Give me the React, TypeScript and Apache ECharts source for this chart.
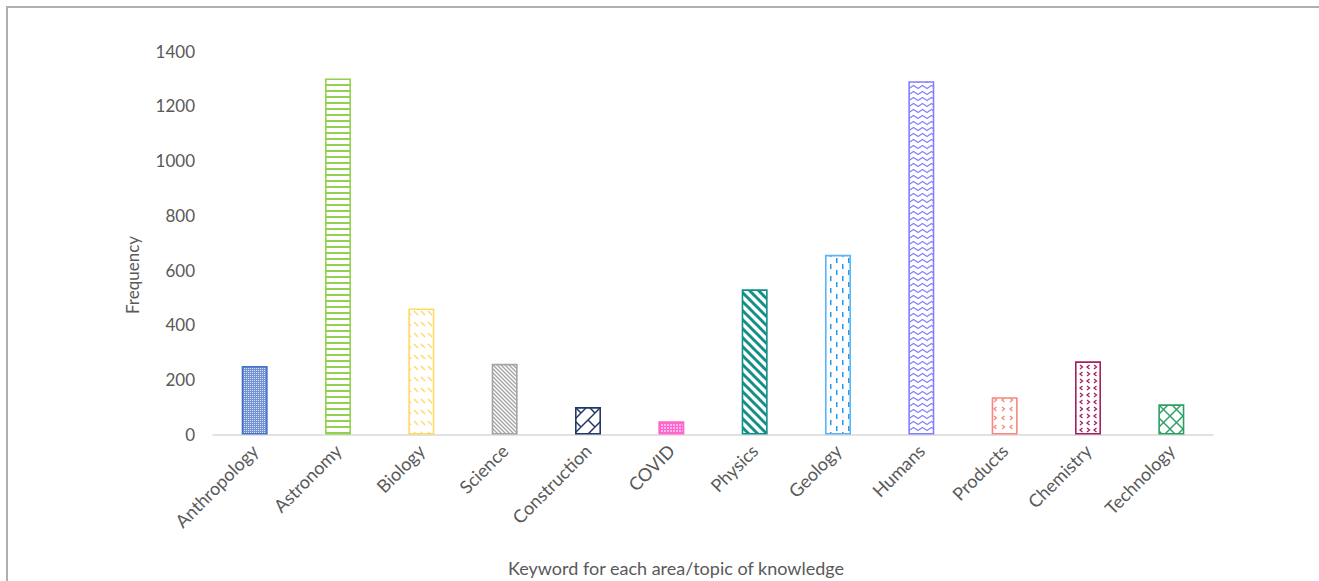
import React, { useEffect, useRef } from "react";
import * as echarts from "echarts";

const categories = [
  "Anthropology", "Astronomy", "Biology", "Science", "Construction", "COVID",
  "Physics", "Geology", "Humans", "Products", "Chemistry", "Technology",
];
const frequencies = [250, 1300, 460, 258, 100, 48, 530, 656, 1290, 136, 267, 110];
const yMin = 0;
const yMax = 1400;
const yInterval = 200;
const xAxisTitle = "Keyword for each area/topic of knowledge";
const yAxisTitle = "Frequency";
const barColors = [
  "#4472C4", "#92D050", "#FFD966", "#A5A5A5", "#203864", "#FF66CC",
  "#138F8A", "#1E9BF0", "#8080FF", "#F8877F", "#A4205E", "#2BA064",
];
const borderColors = [
  "#4472C4", "#92D050", "#FFD966", "#A5A5A5", "#203864", "#FF66CC",
  "#138F8A", "#5AB4F5", "#8080FF", "#F8877F", "#A4205E", "#2BA064",
];

type Ctx = CanvasRenderingContext2D;

function stroke(ctx: Ctx, pts: number[][], color: string, lw: number) {
  ctx.strokeStyle = color;
  ctx.lineWidth = lw;
  ctx.beginPath();
  pts.forEach(([x, y], i) => (i ? ctx.lineTo(x, y) : ctx.moveTo(x, y)));
  ctx.stroke();
}
function back(ctx: Ctx, s: number, color: string, lw: number) {
  for (const k of [-s, 0, s]) stroke(ctx, [[k - 1, -1], [k + s + 1, s + 1]], color, lw);
}
function fwd(ctx: Ctx, s: number, color: string, lw: number) {
  for (const k of [-s, 0, s]) stroke(ctx, [[k - 1, s + 1], [k + s + 1, -1]], color, lw);
}

function tile(w: number, h: number, bg: string, draw: (ctx: Ctx) => void) {
  const c = document.createElement("canvas");
  c.width = w;
  c.height = h;
  const ctx = c.getContext("2d") as Ctx;
  ctx.fillStyle = bg;
  ctx.fillRect(0, 0, w, h);
  draw(ctx);
  return { image: c.toDataURL(), repeat: "repeat", imageWidth: w, imageHeight: h };
}

function chevR(ctx: Ctx, x: number, y: number, c: string) {
  stroke(ctx, [[x, y], [x + 2.5, y + 2], [x, y + 4]], c, 1.3);
}
function chevL(ctx: Ctx, x: number, y: number, c: string) {
  stroke(ctx, [[x + 2.5, y], [x, y + 2], [x + 2.5, y + 4]], c, 1.3);
}

function makePatterns() {
  const c = barColors;
  return [
    tile(2, 2, "#7394D4", (ctx) => {
      ctx.fillStyle = "#D9E3F5";
      ctx.fillRect(0, 0, 1, 1);
    }),
    tile(6, 6, "#ffffff", (ctx) => {
      ctx.fillStyle = c[1];
      ctx.fillRect(0, 0, 6, 2);
    }),
    tile(7, 11, "#ffffff", (ctx) => {
      stroke(ctx, [[1, 3], [5, 7]], c[2], 1.5);
    }),
    tile(4, 4, "#ffffff", (ctx) => back(ctx, 4, c[3], 1.4)),
    tile(14, 14, "#ffffff", (ctx) => {
      fwd(ctx, 14, c[4], 1.5);
      stroke(ctx, [[0, 0], [7, 7]], c[4], 1.5);
    }),
    tile(3, 3, "#FFB3E6", (ctx) => {
      ctx.fillStyle = c[5];
      ctx.fillRect(0, 0, 3, 1);
      ctx.fillRect(0, 0, 1, 3);
    }),
    tile(9, 9, "#ffffff", (ctx) => back(ctx, 9, c[6], 3)),
    tile(12, 12, "#ffffff", (ctx) => {
      ctx.fillStyle = c[7];
      ctx.fillRect(2, 0, 1.5, 5);
      ctx.fillRect(8, 6, 1.5, 5);
    }),
    tile(9, 6, "#ffffff", (ctx) => {
      stroke(ctx, [[-1, 5], [0, 4.5], [4.5, 1.5], [9, 4.5], [10, 5]], c[8], 1.2);
    }),
    tile(16, 18, "#ffffff", (ctx) => {
      chevR(ctx, 2, 2, c[9]);
      chevL(ctx, 10, 2, c[9]);
      chevL(ctx, 2, 11, c[9]);
      chevR(ctx, 10, 11, c[9]);
    }),
    tile(14, 14, "#ffffff", (ctx) => {
      chevR(ctx, 2, 1, c[10]);
      chevL(ctx, 9, 1, c[10]);
      chevL(ctx, 2, 8, c[10]);
      chevR(ctx, 9, 8, c[10]);
    }),
    tile(13, 13, "#ffffff", (ctx) => {
      back(ctx, 13, c[11], 1.4);
      fwd(ctx, 13, c[11], 1.4);
    }),
  ];
}

const FONT = "Lato, 'Open Sans', sans-serif";
const TEXT = "#595959";

export default function App() {
  const ref = useRef<HTMLDivElement>(null);
  useEffect(() => {
    if (!ref.current) return;
    const chart = echarts.init(ref.current, undefined, { renderer: "svg" });
    const patterns = makePatterns();
    chart.setOption({
      animation: false,
      backgroundColor: "#ffffff",
      grid: { left: 213, right: 106, top: 51, bottom: 146.5, containLabel: false },
      xAxis: {
        type: "category",
        data: categories,
        axisLine: { show: true, lineStyle: { color: "#D9D9D9", width: 1.5 } },
        axisTick: { show: false },
        axisLabel: {
          rotate: 45,
          margin: 13,
          interval: 0,
          color: TEXT,
          fontSize: 18,
          fontFamily: FONT,
        },
      },
      yAxis: {
        type: "value",
        min: yMin,
        max: yMax,
        interval: yInterval,
        axisLine: { show: false },
        axisTick: { show: false },
        splitLine: { show: false },
        axisLabel: {
          color: TEXT,
          fontSize: 17,
          fontFamily: FONT,
          margin: 18,
          formatter: (v: number) => String(v),
        },
      },
      series: [
        {
          type: "bar",
          barWidth: 26,
          data: frequencies.map((v, i) => ({
            value: v,
            itemStyle: {
              color: patterns[i],
              borderColor: borderColors[i],
              borderWidth: 1.6,
            },
          })),
        },
      ],
      graphic: [
        {
          type: "rect",
          shape: { x: 7, y: 7, width: 1400, height: 700 },
          style: { fill: "none", stroke: "#AFAFAF", lineWidth: 2 },
          silent: true,
        },
        {
          type: "text",
          x: 676,
          y: 568,
          style: {
            text: xAxisTitle,
            fill: TEXT,
            font: `18px ${FONT}`,
            textAlign: "center",
            textVerticalAlign: "middle",
          },
        },
        {
          type: "text",
          x: 132,
          y: 275,
          rotation: Math.PI / 2,
          style: {
            text: yAxisTitle,
            fill: TEXT,
            font: `17px ${FONT}`,
            textAlign: "center",
            textVerticalAlign: "middle",
          },
        },
      ],
    });
    return () => chart.dispose();
  }, []);
  return (
    <div
      ref={ref}
      style={{ position: "absolute", left: 0, top: 0, width: 1319, height: 581 }}
    />
  );
}
